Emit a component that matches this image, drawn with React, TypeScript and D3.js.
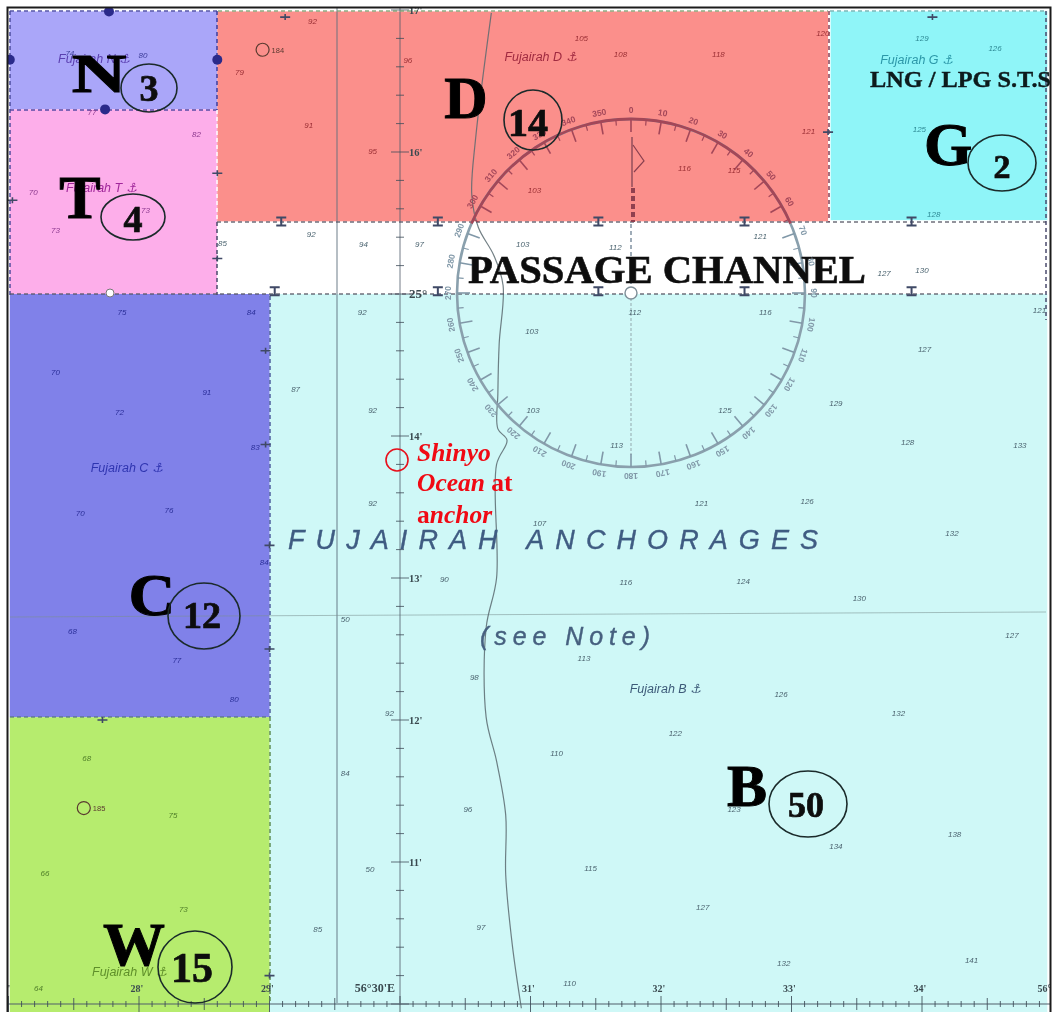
import React from "react";
import * as d3 from "d3";

const W = 1054, H = 1012;
// Geographic scales: chart minutes of longitude and latitude
const x = d3.scaleLinear().domain([30, 31]).range([400, 530.5]);
const y = d3.scaleLinear().domain([10, 11]).range([1004, 862]);

// zones: chart area outlines in chart minutes
const zoneNames = ["B", "N", "T", "D", "G", "P", "C", "W"];
const zoneLon0 = [29.0, 27.01, 27.01, 28.6, 33.3, 28.6, 27.01, 27.01];
const zoneLon1 = [34.96, 28.6, 28.6, 33.28, 34.96, 34.96, 29.0, 29.0];
const zoneLat0 = [9.94, 16.3, 15.0, 15.51, 15.52, 15.02, 12.02, 9.94];
const zoneLat1 = [15.0, 16.99, 16.3, 16.99, 16.99, 15.51, 15.0, 12.02];
const zoneColors = ["#cff8f7", "#aaa6f9", "#fdaeea", "#fb8f8b", "#8ff5f8", "#ffffff", "#8081e9", "#b6ec6e"];

// letter + vessel count
const letterNames = ["N", "T", "D", "G", "C", "W", "B"];
const letterCounts = [3, 4, 14, 2, 12, 15, 50];
const letterX = [99, 80, 466, 948, 152, 134, 747];
const letterY = [92, 218, 118, 165, 615, 965, 806];
const letterSize = [54, 62, 60, 62, 60, 62, 60];
const letterStretch = [1.4, 1, 1, 1, 1.08, 1, 1];
const ellipseX = [149, 133, 533, 1002, 204, 195, 808];
const ellipseY = [88, 217, 120, 163, 616, 967, 804];
const ellipseRx = [28, 32, 29, 34, 36, 37, 39];
const ellipseRy = [24, 23, 30, 28, 33, 36, 33];
const countX = [149, 133, 528, 1002, 202, 192, 806];
const countY = [101, 232, 136, 178, 628, 982, 817];
const countSize = [38, 38, 40, 34, 38, 42, 36];

// soundings
const soundingLon = [29.33,31.39,31.69,32.44,33.24,28.77,29.30,29.79,31.03,32.18,32.56,33.13,30.06,27.47,28.03,27.64,28.44,27.19,27.36,28.05,29.32,29.72,30.15,30.94,31.65,32.76,33.71,34.00,28.64,34.00,34.56,33.98,34.09,29.71,31.01,31.80,32.80,34.90,34.02,29.20,29.79,31.02,32.49,33.34,31.66,33.89,34.75,29.79,31.07,32.31,33.12,34.23,30.34,31.73,32.63,33.52,29.58,34.69,31.41,30.57,32.92,32.11,33.82,29.92,31.20,29.58,32.56,33.34,34.25,30.52,31.46,29.77,32.32,30.62,29.37,32.94,34.38,31.30,27.87,28.86,27.36,27.85,28.52,28.89,27.55,28.23,28.96,27.49,28.29,28.73,27.60,28.26,27.28,28.34,27.23];
const soundingLat = [16.92,16.80,16.69,16.69,16.84,16.56,16.19,16.01,15.73,15.89,15.87,16.15,16.65,16.70,16.68,16.28,16.13,15.72,15.45,15.59,15.42,15.35,15.35,15.35,15.33,15.41,15.15,15.17,15.36,16.80,16.73,16.16,15.56,14.87,14.74,14.87,14.87,14.89,14.61,14.33,14.18,14.18,14.18,14.23,13.94,13.96,13.94,13.53,13.39,13.53,13.54,13.32,12.99,12.97,12.98,12.86,12.71,12.60,12.44,12.30,12.18,11.91,12.05,12.05,11.77,11.63,11.37,11.11,11.20,11.37,10.96,10.95,10.68,10.54,10.53,10.29,10.31,10.15,14.87,14.87,14.45,14.17,14.31,13.92,13.46,13.48,13.11,12.63,12.42,12.15,11.73,11.33,10.92,10.67,10.11];
const soundingDepth = [92,105,108,118,120,79,91,95,103,116,115,121,96,74,80,77,82,70,73,73,92,94,97,103,112,121,127,130,85,129,126,125,128,92,103,112,116,121,127,87,92,103,125,129,113,128,133,92,107,121,126,132,90,116,124,130,50,127,113,98,126,122,132,92,110,84,123,134,138,96,115,50,127,97,85,132,141,110,75,84,70,72,91,83,70,76,84,68,77,80,68,75,66,73,64];

// anchorage names
const anchorageNames = ["Fujairah N", "Fujairah T", "Fujairah D", "Fujairah G", "Fujairah C", "Fujairah B", "Fujairah W"];
const anchorageLon = [27.38, 27.44, 30.80, 33.68, 27.63, 31.76, 27.64];
const anchorageLat = [16.63, 15.72, 16.64, 16.62, 13.75, 12.19, 10.2];
const anchorageColors = ["#5a3fb0", "#a0289a", "#a02a40", "#2c97a8", "#2f35b0", "#3c5a78", "#5f8f2a"];

// depth contour
const contourLon = [30.70, 30.58, 30.55, 30.60, 30.72, 30.79, 30.76, 30.75, 30.75, 30.82, 30.74, 30.74, 30.66, 30.66, 30.74, 30.81, 30.81, 30.86, 30.93];
const contourLat = [16.98, 16.10, 15.70, 15.47, 15.27, 15.06, 14.65, 14.30, 14.05, 13.97, 13.80, 13.00, 12.65, 12.02, 11.71, 11.33, 10.91, 10.42, 9.97];

// axis labels
const lonTicks = [27, 28, 29, 30, 31, 32, 33, 34, 35];
const lonLabels = ["7'", "28'", "29'", "56°30'E", "31'", "32'", "33'", "34'", "56°"];
const latTicks = [17, 16, 15, 14, 13, 12, 11];
const latLabels = ["17'", "16'", "25°", "14'", "13'", "12'", "11'"];

// anchorage limit markers
const markerLon = [29.09, 30.29, 31.52, 32.64, 33.92, 29.04, 30.29, 31.52, 32.64, 33.92];
const markerLat = [15.51, 15.51, 15.51, 15.51, 15.51, 15.02, 15.02, 15.02, 15.02, 15.02];
const dotLon = [27.77, 27.01, 28.6, 27.74];
const dotLat = [16.99, 16.65, 16.65, 16.3];
const crossLon = [28.97, 28.97, 29.0, 29.0, 29.0, 27.72, 28.6, 28.6, 29.12, 34.08, 33.28, 27.03];
const crossLat = [14.6, 13.94, 13.23, 12.5, 10.2, 12.0, 15.85, 15.25, 16.95, 16.95, 16.14, 15.66];
const wreckLon = [28.97, 27.6];
const wreckLat = [16.72, 11.38];
const wreckDepths = [184, 185];

const SERIF = "'Liberation Serif','Times New Roman',serif";
const SANS = "'Liberation Sans',Arial,sans-serif";

const cx = 631, cy = 293, R = 174;
const rose = d3.range(0, 360, 5);

const zoneOf = (i: number) => ({
  x0: x(zoneLon0[i]), x1: x(zoneLon1[i]), y0: y(zoneLat1[i]), y1: y(zoneLat0[i]),
});

export default function App() {
  const contour = d3.line<number>().x(i => x(contourLon[i])).y(i => y(contourLat[i])).curve(d3.curveCatmullRom)(contourLon.map((_, i) => i)) as string;
  const minorLon = d3.range(27.0, 35.01, 0.1);
  const minorLat = d3.range(10, 17.01, 0.1);
  const limits: [number, number, number, number, string][] = [
    [10, 110, 217, 110, "#3a3a9a"], [10, 11, 217, 11, "#3a3a9a"], [10, 11, 10, 295, "#4a4a9a"],
    [217, 11, 217, 110, "#3a3a9a"], [217, 110, 217, 222, "#ffffff"], [217, 222, 217, 295, "#444466"],
    [217, 222, 1046, 222, "#555566"], [10, 294, 1046, 294, "#555566"], [218, 11, 828, 11, "#7aa070"],
    [829, 11, 829, 222, "#803a50"], [830, 11, 1046, 11, "#66aaaa"], [1046, 11, 1046, 320, "#444466"],
    [270, 296, 270, 717, "#4a5a9a"], [270, 717, 270, 1004, "#5a8a50"], [10, 717, 270, 717, "#5a7a80"],
  ];
  return (
    <svg width={W} height={H} viewBox={`0 0 ${W} ${H}`} style={{ position: "absolute", left: 0, top: 0, background: "#fff" }}>
      <defs>
        <filter id="soft" x="-5%" y="-5%" width="110%" height="110%"><feGaussianBlur stdDeviation="0.6" /></filter>
        <filter id="softer" x="-5%" y="-5%" width="110%" height="110%"><feGaussianBlur stdDeviation="0.4" /></filter>
        <clipPath id="frame"><rect x={8} y={8} width={1042} height={1004} /></clipPath>
      </defs>
      <g clipPath="url(#frame)">
        {zoneNames.map((n, i) => {
          const z = zoneOf(i);
          return <rect key={n} x={z.x0} y={z.y0} width={z.x1 - z.x0} height={z.y1 - z.y0} fill={zoneColors[i]} />;
        })}
        <g filter="url(#soft)">
          {/* meridian, parallel */}
          <line x1={337} y1={8} x2={337} y2={1003} stroke="#5c6f7c" strokeWidth={1.2} opacity={0.75} />
          <path d="M10 617 L1046 612" stroke="#7a8f90" strokeWidth={1} fill="none" opacity={0.55} />
          {/* lat scale */}
          <line x1={x(30)} y1={8} x2={x(30)} y2={1003} stroke="#4e5d6a" strokeWidth={1} opacity={0.8} />
          {minorLat.map((m, i) => {
            const major = i % 10 === 0, mid = i % 2 === 0;
            if (!mid) return null;
            return <line key={i} x1={x(30) - (major ? 9 : 4)} x2={x(30) + (major ? 9 : 4)} y1={y(m)} y2={y(m)} stroke="#3e4c58" strokeWidth={1} opacity={0.8} />;
          })}
          {/* lon scale */}
          <line x1={8} y1={y(10)} x2={1050} y2={y(10)} stroke="#4e5d6a" strokeWidth={1} />
          {minorLon.map((m, i) => {
            const major = i % 10 === 0, mid = i % 5 === 0;
            const l = major ? 8 : mid ? 6 : 3;
            return <line key={i} x1={x(m)} x2={x(m)} y1={y(10) - l} y2={y(10) + l} stroke="#3e4c58" strokeWidth={1} opacity={0.85} />;
          })}
          {/* contour */}
          <path d={contour} fill="none" stroke="#5a6a70" strokeWidth={1.2} opacity={0.85} />
          {/* limit lines */}
          {limits.map((l, i) => (
            <line key={i} x1={l[0]} y1={l[1]} x2={l[2]} y2={l[3]} stroke={l[4]} strokeWidth={1.7} strokeDasharray="4 3" opacity={0.85} />
          ))}
          {/* markers */}
          {markerLon.map((m, i) => (
            <path key={i} d={`M${x(m) - 5} ${y(markerLat[i]) - 4} h10 M${x(m)} ${y(markerLat[i]) - 4} v8 M${x(m) - 5} ${y(markerLat[i]) + 4} h10`} stroke="#3f4a66" strokeWidth={2} fill="none" />
          ))}
          {dotLon.map((m, i) => (
            <ellipse key={i} cx={x(m)} cy={y(dotLat[i])} rx={5} ry={5} fill="#2b2b8a" />
          ))}
          {crossLon.map((m, i) => (
            <path key={i} d={`M${x(m) - 5} ${y(crossLat[i])} h10 M${x(m)} ${y(crossLat[i]) - 3} v6`} stroke="#3f4a66" strokeWidth={1.6} fill="none" />
          ))}
          <circle cx={110} cy={293} r={4} fill="#fff" stroke="#777" />
          {wreckLon.map((m, i) => (
            <g key={m}>
              <circle cx={x(m) - 3} cy={y(wreckLat[i])} r={6.5} fill="none" stroke="#5a3a30" strokeWidth={1.2} />
              <text x={x(m) + 6} y={y(wreckLat[i]) + 3} fontFamily={SANS} fontSize={7.5} fill="#5a3a30">{wreckDepths[i]}</text>
            </g>
          ))}
          {/* rose */}
          <line x1={632} y1={137} x2={632} y2={187} stroke="#8c4a58" strokeWidth={1.4} />
          <line x1={633} y1={188} x2={633} y2={222} stroke="#904050" strokeWidth={4} strokeDasharray="5 3" />
          <line x1={cx} y1={224} x2={cx} y2={288} stroke="#7f90a0" strokeWidth={2} strokeDasharray="4 3" opacity={0.75} />
          <line x1={cx} y1={298} x2={cx} y2={455} stroke="#93a9ae" strokeWidth={1} strokeDasharray="3 2" />
          <path d="M633 145 L644 161 L634 172" fill="none" stroke="#8a4050" strokeWidth={1.2} />
          <circle cx={cx} cy={cy} r={6} fill="#fff" stroke="#7f8f98" strokeWidth={1.4} />
          <circle cx={cx} cy={cy} r={R} fill="none" stroke="#8aa0ad" strokeWidth={2.6} />
          <path d={d3.arc()({ innerRadius: R - 1.4, outerRadius: R + 1.4, startAngle: -1.16, endAngle: 1.16, padAngle: 0 }) as string} transform={`translate(${cx},${cy})`} fill="#a34759" />
          {rose.map(b => {
            const a = (b * Math.PI) / 180;
            const sin = Math.sin(a), cos = Math.cos(a);
            const major = b % 10 === 0;
            const len = major ? 13 : 6;
            const px = cx + sin * R, py = cy - cos * R;
            const col = py < 222 ? "#a34759" : "#8198a8";
            return (
              <g key={b}>
                <line x1={px} y1={py} x2={cx + sin * (R - len)} y2={cy - cos * (R - len)} stroke={col} strokeWidth={major ? 1.6 : 1.2} />
                {major && (
                  <text transform={`translate(${cx + sin * (R + 6)},${cy - cos * (R + 6)}) rotate(${b})`} textAnchor="middle" fontFamily={SANS} fontSize={8.5} fontWeight={700} fill={col}>{b === 0 ? "0" : b}</text>
                )}
              </g>
            );
          })}
        </g>
        {/* soundings */}
        <g filter="url(#soft)">
          {soundingDepth.map((d, i) => {
            const px = x(soundingLon[i]), py = y(soundingLat[i]);
            const fill = px < 270 && py > 717 ? "#4f7d28" : px < 270 && py > 296 ? "#2a2f98" : px < 217 && py < 110 ? "#3c3c98" : px < 217 ? "#8c3a8f" : px < 829 && py < 222 ? "#9a2f34" : py < 222 ? "#2f8a95" : "#4c6470";
            return <text key={i} x={px} y={py + 3} textAnchor="middle" fontFamily={SANS} fontStyle="italic" fontSize={8} fill={fill}>{d}</text>;
          })}
          {anchorageNames.map((n, i) => (
            <text key={n} x={x(anchorageLon[i])} y={y(anchorageLat[i])} fontFamily={SANS} fontStyle="italic" fontSize={12.5} fill={anchorageColors[i]}>{n} ⚓︎</text>
          ))}
          {lonTicks.map((m, i) => (
            <text key={m} x={x(m) - (m === 30 ? 5 : m === 35 ? 8 : 2)} y={992} textAnchor={m === 30 ? "end" : "middle"} fontFamily={SERIF} fontWeight={700} fontSize={i === 3 ? 12 : 10} fill="#3a4a50">{lonLabels[i]}</text>
          ))}
          {latTicks.map((m, i) => (
            <text key={m} x={x(30) + 9} y={y(m) + 4} fontFamily={SERIF} fontWeight={700} fontSize={m === 15 ? 13 : 10.5} fill="#3a4a50">{latLabels[i]}</text>
          ))}
        </g>
        {/* chart captions */}
        <g filter="url(#softer)">
          <text x={288} y={549} textLength={530} lengthAdjust="spacing" fontFamily={SANS} fontStyle="italic" fontSize={27} stroke="#3f5b82" strokeWidth={0.4} fill="#3f5b82">FUJAIRAH ANCHORAGES</text>
          <text x={480} y={645} textLength={170} lengthAdjust="spacing" fontFamily={SANS} fontStyle="italic" fontSize={25} stroke="#46607f" strokeWidth={0.4} fill="#46607f">(see Note)</text>
          <text x={468} y={283} textLength={398} lengthAdjust="spacingAndGlyphs" fontFamily={SERIF} fontWeight={700} fontSize={39} stroke="#0c0c0c" strokeWidth={0.6} fill="#0c0c0c">PASSAGE CHANNEL</text>
          <text x={870} y={87} textLength={181} lengthAdjust="spacingAndGlyphs" fontFamily={SERIF} fontWeight={700} fontSize={24} stroke="#0c1a1c" strokeWidth={0.4} fill="#0c1a1c">LNG / LPG S.T.S</text>
          {letterNames.map((n, i) => (
            <g key={n}>
              <text transform={`translate(${letterX[i]},${letterY[i]}) scale(${letterStretch[i]},1)`} textAnchor="middle" fontFamily={SERIF} fontWeight={700} fontSize={letterSize[i]} stroke="#060606" strokeWidth={1} fill="#060606">{n}</text>
              <ellipse cx={ellipseX[i]} cy={ellipseY[i]} rx={ellipseRx[i]} ry={ellipseRy[i]} fill="none" stroke="#1a2a2a" strokeWidth={1.6} />
              <text x={countX[i]} y={countY[i]} textAnchor="middle" fontFamily={SERIF} fontWeight={700} fontSize={countSize[i]} stroke="#0a0a0a" strokeWidth={0.7} fill="#0a0a0a">{letterCounts[i]}</text>
            </g>
          ))}
        </g>
        {/* vessel position */}
        <circle cx={397} cy={460} r={11} fill="none" stroke="#e8101c" strokeWidth={1.6} />
        <g fontFamily={SERIF} fontSize={25.5} fill="#f00a14" fontWeight={700}>
          <text x={417} y={461} fontStyle="italic">Shinyo</text>
          <text x={417} y={491}><tspan fontStyle="italic">Ocean</tspan> at</text>
          <text x={417} y={523}>a<tspan fontStyle="italic">nchor</tspan></text>
        </g>
      </g>
      {/* frame */}
      <path d={`M7.5 1012 V7.5 H1050.5 V1012`} fill="none" stroke="#1c1c1c" strokeWidth={2} />
    </svg>
  );
}
